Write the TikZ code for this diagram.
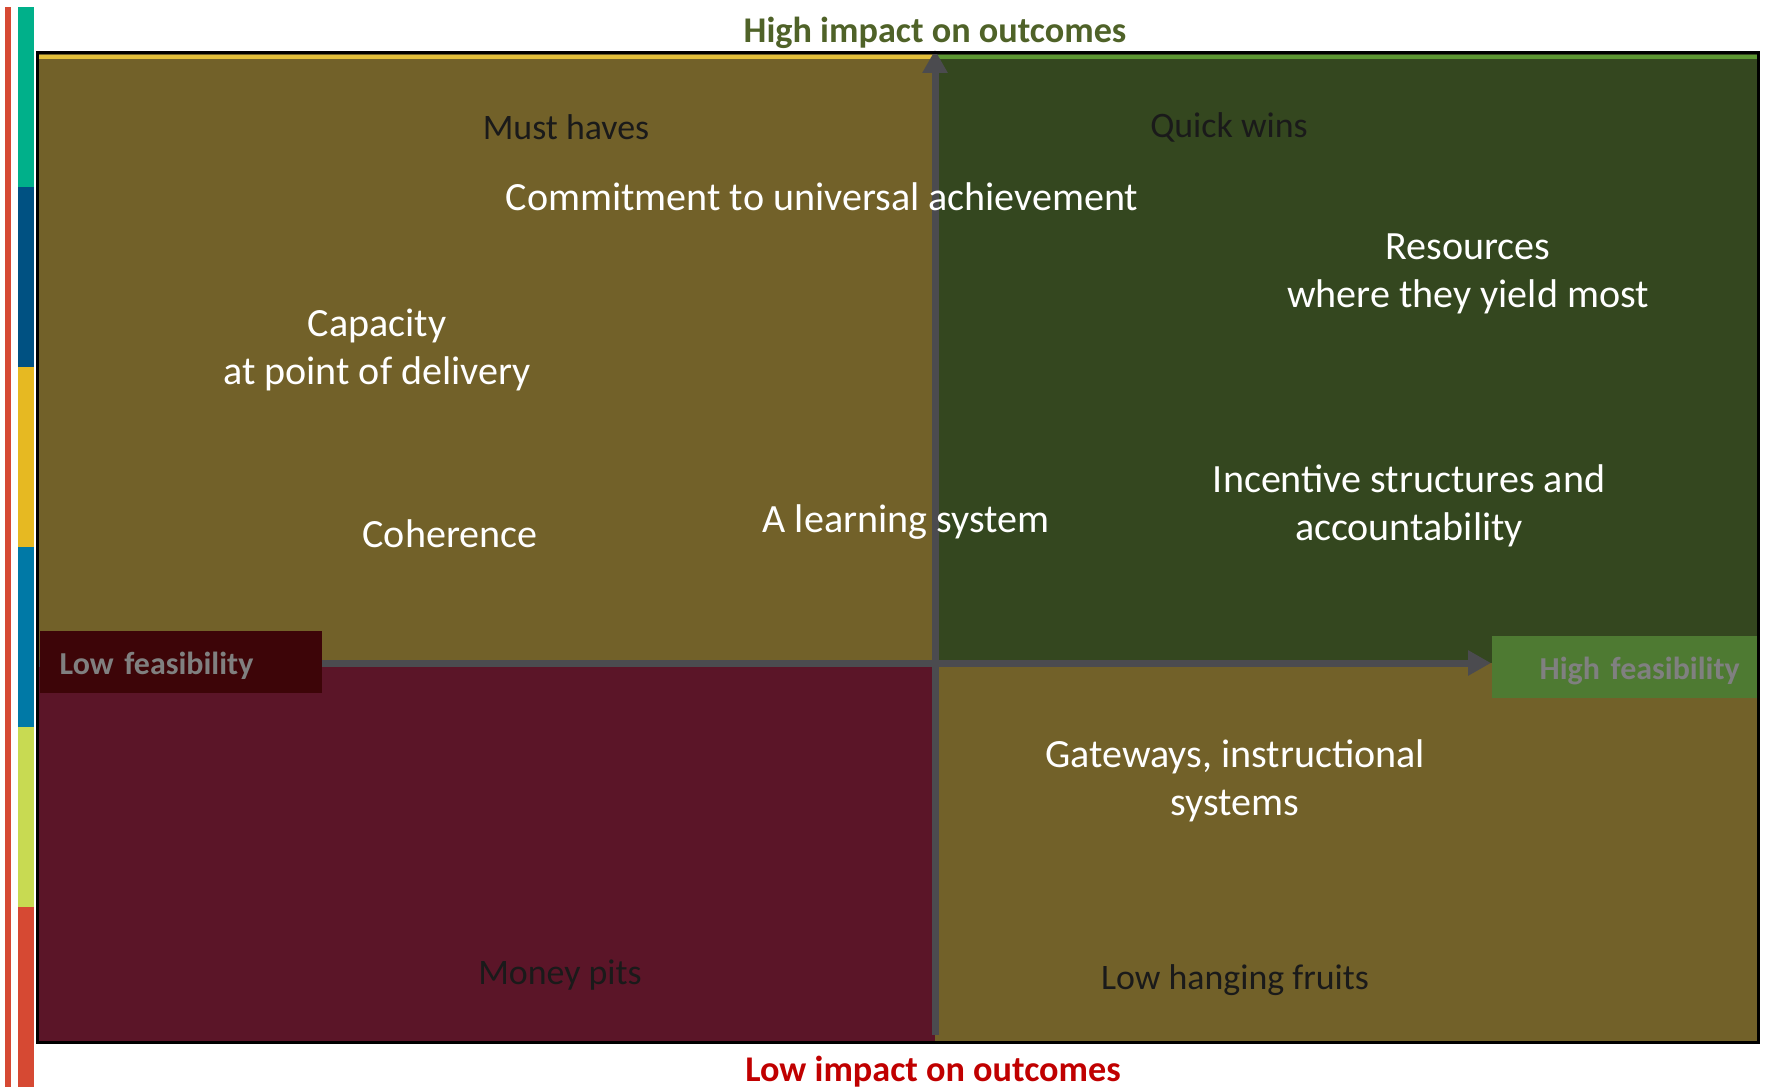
\documentclass[tikz,border=0pt]{standalone}
\usepackage{fontspec}
\setmainfont{Carlito}
\usepackage{xcolor}
\usetikzlibrary{arrows.meta, positioning}

\definecolor{ouro}{HTML}{726129}
\definecolor{verde}{HTML}{34471F}
\definecolor{vinho}{HTML}{5B1528}
\definecolor{amarelo}{HTML}{E2BE3A}
\definecolor{verdeclaro}{HTML}{5C9632}
\definecolor{cinza}{HTML}{4B4B4F}
\definecolor{vinhoesc}{HTML}{3D0508}
\definecolor{verdecaixa}{HTML}{4E7A32}
\definecolor{textocaixa}{HTML}{808080}
\definecolor{escuro}{HTML}{1A1A1A}
\definecolor{tituloalto}{HTML}{4F6228}
\definecolor{titulobaixo}{HTML}{C00000}
\definecolor{faixaA}{HTML}{00B08A}
\definecolor{faixaB}{HTML}{005182}
\definecolor{faixaC}{HTML}{E6B922}
\definecolor{faixaD}{HTML}{0079A6}
\definecolor{faixaE}{HTML}{C8DA52}
\definecolor{faixaF}{HTML}{D64933}

\begin{document}
\begin{tikzpicture}[>={Triangle[length=0.23cm, width=0.24cm]},
  rotulo/.style={text=white, font=\fontsize{11.4}{13.7}\selectfont, align=center},
  quadrante/.style={text=escuro, font=\fontsize{10.2}{12}\selectfont},
  titulo/.style={font=\bfseries\fontsize{10.3}{12}\selectfont},
  eixo/.style={draw=cinza, line width=0.07cm},
  caixa/.style={text=textocaixa, font=\bfseries\fontsize{9.1}{11}\selectfont,
    minimum height=0.58cm, inner xsep=0.2cm, text height=0.31cm, text depth=0.07cm}]

  \useasboundingbox (0,0) rectangle (17.65,10.88);

  % Cantos e centro
  \coordinate (SW) at (0.37,0.46);
  \coordinate (NE) at (17.58,10.35);
  \coordinate (C) at (9.35,4.25);
  \coordinate (base) at (9.35,0.53);
  \coordinate (topo) at (9.35,10.38);
  \coordinate (esq) at (0.37,4.25);
  \coordinate (dir) at (14.91,4.25);

  % Quadrantes
  \fill[ouro] (SW |- C) rectangle (C |- NE);
  \fill[verde] (C) rectangle (NE);
  \fill[vinho] (SW) rectangle (C);
  \fill[ouro] (C |- SW) rectangle (NE |- C);
  \draw[amarelo, line width=0.035cm] (0.37,10.31) -- (9.35,10.31);
  \draw[verdeclaro, line width=0.035cm] (9.35,10.31) -- (17.58,10.31);

  % Faixas laterais
  \fill[faixaF] (0.05,0.01) rectangle (0.11,10.81);
  \foreach \cor [count=\i from 0] in {faixaA, faixaB, faixaC, faixaD, faixaE, faixaF}
    \fill[\cor] (0.18,{10.81-1.80*\i}) rectangle (0.34,{10.81-1.80*(\i+1)});

  % Eixos
  \draw[eixo, ->] (base) -- (topo);
  \draw[eixo, ->] (esq) -- (dir);

  % Caixas de viabilidade
  \node[caixa, fill=vinhoesc, anchor=west, text width=2.42cm, align=left]
    (baixa) at (0.39,4.26) {Low feasibility};
  \node[caixa, fill=verdecaixa, anchor=west, text width=2.28cm, align=right]
    (alta) at (dir |- 0,4.21) {High feasibility};

  % Moldura
  \draw[black, line width=0.03cm] (SW) rectangle (NE);

  % Titulos
  \node[titulo, text=tituloalto, anchor=base] (impactoalto) at (9.35,10.45) {High impact on outcomes};
  \node[titulo, text=titulobaixo, anchor=base] (impactobaixo) at (9.33,0.07) {Low impact on outcomes};

  % Nomes dos quadrantes
  \node[quadrante, anchor=base] (must) at (5.66,9.48) {Must haves};
  \node[quadrante, anchor=base] (quick) at (12.29,9.50) {Quick wins};
  \node[quadrante, anchor=base] (money) at (5.60,1.04) {Money pits};
  \node[quadrante, anchor=base] (fruits) at (12.35,0.99) {Low hanging fruits};

  % Rotulos
  \node[rotulo, anchor=base] (commit) at (8.22,8.77) {Commitment to universal achievement};
  \node[rotulo] (resources) at (14.68,8.14) {Resources\\where they yield most};
  \node[rotulo] (capacity) at (3.77,7.38) {Capacity\\at point of delivery};
  \node[rotulo, anchor=base] (coherence) at (4.50,5.41) {Coherence};
  \node[rotulo, anchor=base] (learning) at (9.06,5.56) {A learning system};
  \node[rotulo] (incentive) at (14.09,5.82) {Incentive structures and\\accountability};
  \node[rotulo] (gateways) at (12.35,3.07) {Gateways, instructional\\systems};

\end{tikzpicture}
\end{document}
